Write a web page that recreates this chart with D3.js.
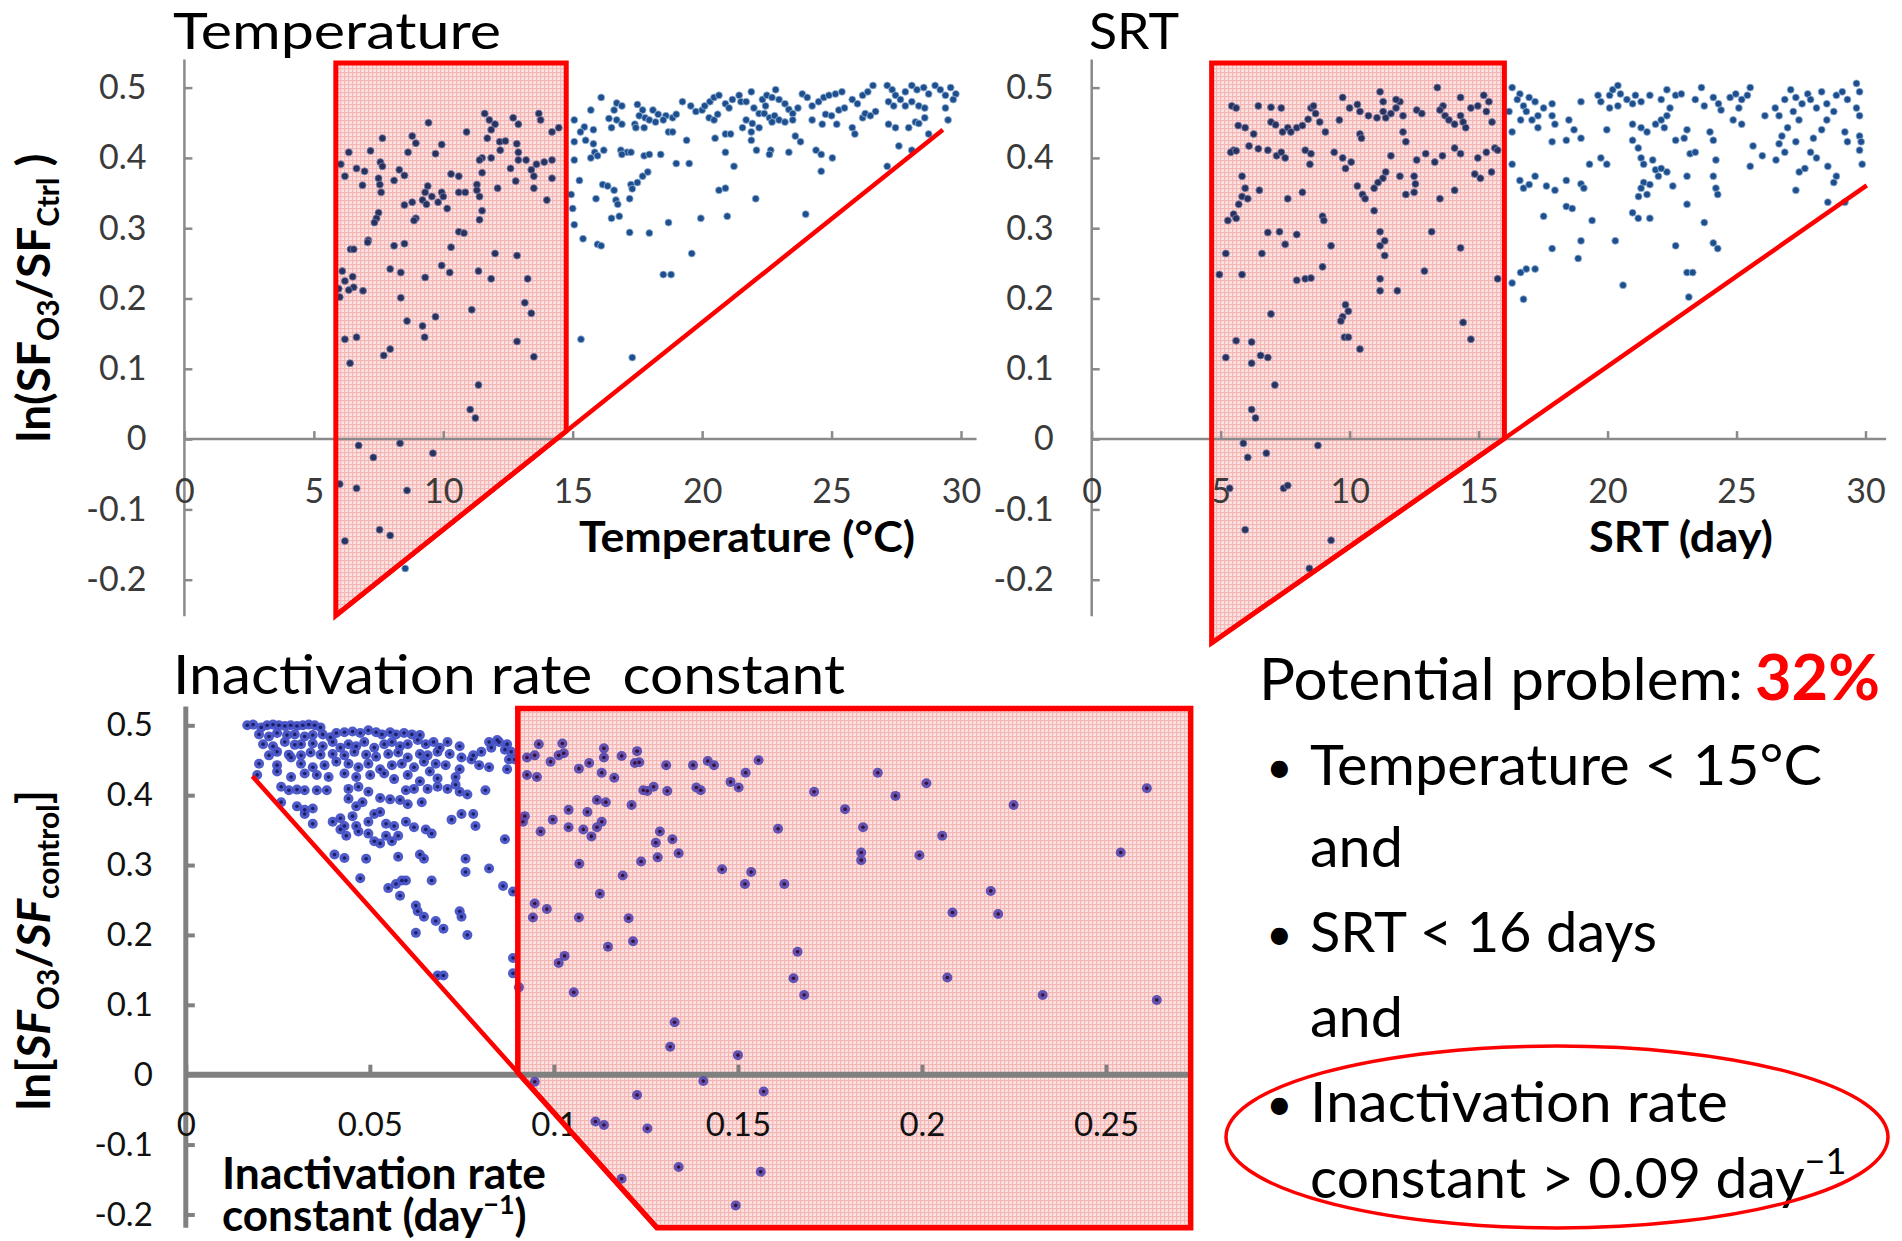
<!DOCTYPE html>
<html><head><meta charset="utf-8">
<script src="https://cdn.jsdelivr.net/npm/d3@7"></script>
<style>body{margin:0;background:#fff}svg{display:block}text{font-family:Lato,'Open Sans',sans-serif}</style>
</head><body><svg id="c" width="1902" height="1241"></svg>
<script>
// ---------- data ----------
const tempPoints=[[11.6,0.463],[13.69,0.463],[12.7,0.457],[9.43,0.45],[11.78,0.454],[12.0,0.448],[11.85,0.44],[12.9,0.448],[10.9,0.437],[13.76,0.454],[14.2,0.437],[14.46,0.443],[8.8,0.431],[7.65,0.428],[8.94,0.421],[11.7,0.428],[12.18,0.423],[12.4,0.424],[8.64,0.408],[9.94,0.419],[9.7,0.406],[12.2,0.411],[12.84,0.42],[12.9,0.408],[12.9,0.397],[11.85,0.4],[11.5,0.4],[11.4,0.397],[6.35,0.408],[7.19,0.41],[7.57,0.394],[7.65,0.388],[13.2,0.397],[13.6,0.391],[13.9,0.394],[14.2,0.397],[6.04,0.391],[6.65,0.385],[6.96,0.381],[8.3,0.383],[8.5,0.375],[10.3,0.377],[10.6,0.374],[11.5,0.379],[12.6,0.385],[13.4,0.383],[13.5,0.374],[14.2,0.371],[6.2,0.374],[7.5,0.371],[7.55,0.362],[7.6,0.351],[8.1,0.368],[12.8,0.367],[9.4,0.36],[9.3,0.351],[9.56,0.345],[9.94,0.351],[10.0,0.345],[10.6,0.351],[10.85,0.351],[11.3,0.362],[11.3,0.354],[11.4,0.345],[12.1,0.357],[13.5,0.357],[6.88,0.361],[9.2,0.34],[9.35,0.334],[9.8,0.337],[10.15,0.328],[8.5,0.333],[8.8,0.337],[14.0,0.34],[11.5,0.325],[11.4,0.312],[7.5,0.322],[7.42,0.314],[7.34,0.308],[8.94,0.314],[8.87,0.311],[10.6,0.295],[10.8,0.293],[7.1,0.283],[7.08,0.28],[8.1,0.275],[8.5,0.278],[10.3,0.273],[6.42,0.27],[6.54,0.27],[12.0,0.264],[12.85,0.261],[9.94,0.247],[10.25,0.237],[6.1,0.239],[6.2,0.225],[5.96,0.214],[6.0,0.202],[6.5,0.231],[6.54,0.216],[6.35,0.212],[6.9,0.211],[7.95,0.242],[8.36,0.237],[9.3,0.23],[11.36,0.239],[11.85,0.228],[13.26,0.228],[8.36,0.201],[13.15,0.194],[13.4,0.179],[11.1,0.184],[9.7,0.174],[8.6,0.168],[9.2,0.161],[9.28,0.145],[6.2,0.142],[6.65,0.145],[12.85,0.139],[7.95,0.128],[7.7,0.119],[13.5,0.117],[6.4,0.108],[11.36,0.077],[11.04,0.042],[11.24,0.03],[6.73,-0.009],[8.33,-0.006],[9.6,-0.02],[7.3,-0.026],[6.0,-0.064],[6.65,-0.07],[8.6,-0.073],[7.54,-0.129],[7.95,-0.137],[6.2,-0.145],[8.53,-0.184],
[16.1,0.486],[15.7,0.468],[15.06,0.454],[15.45,0.444],[15.8,0.44],[15.3,0.437],[15.06,0.423],[15.5,0.425],[15.8,0.42],[15.85,0.408],[16.2,0.411],[15.7,0.4],[15.96,0.403],[15.06,0.397],[16.7,0.478],[16.9,0.474],[16.6,0.468],[16.4,0.456],[16.7,0.454],[16.9,0.448],[16.5,0.443],[16.86,0.411],[17.1,0.408],[16.9,0.405],[17.25,0.408],[17.5,0.476],[17.7,0.468],[17.57,0.46],[17.8,0.457],[17.4,0.448],[18.1,0.468],[18.3,0.462],[18.6,0.46],[17.96,0.454],[18.2,0.451],[18.5,0.454],[18.86,0.457],[19.0,0.462],[17.44,0.443],[17.76,0.443],[18.7,0.437],[18.86,0.437],[17.76,0.403],[17.96,0.405],[18.4,0.405],[19.0,0.392],[19.5,0.392],[19.4,0.425],[19.24,0.48],[19.56,0.474],[19.76,0.466],[20.0,0.468],[20.1,0.474],[20.3,0.48],[20.46,0.486],[20.65,0.489],[20.27,0.457],[20.46,0.454],[20.6,0.462],[20.9,0.477],[21.04,0.471],[21.17,0.483],[21.43,0.489],[21.5,0.48],[20.5,0.428],[20.9,0.434],[21.1,0.434],[20.9,0.408],[21.23,0.388],[21.7,0.48],[21.9,0.494],[22.0,0.471],[22.2,0.463],[21.7,0.454],[21.56,0.443],[21.94,0.449],[22.2,0.443],[21.9,0.437],[21.9,0.425],[22.1,0.411],[22.33,0.483],[22.5,0.489],[22.7,0.486],[22.84,0.497],[22.97,0.483],[23.2,0.477],[23.35,0.469],[23.5,0.463],[23.7,0.471],[22.45,0.474],[22.4,0.463],[22.6,0.457],[22.8,0.46],[22.97,0.454],[22.7,0.451],[22.65,0.411],[22.6,0.405],[23.35,0.408],[23.6,0.431],[23.8,0.423],[23.2,0.451],[23.5,0.454],[23.87,0.491],[24.06,0.486],[24.25,0.474],[24.5,0.48],[24.7,0.486],[24.9,0.489],[25.15,0.491],[25.4,0.494],[24.25,0.454],[24.64,0.448],[24.77,0.462],[25.0,0.46],[25.28,0.468],[25.5,0.471],[25.2,0.448],[25.8,0.483],[26.0,0.477],[26.2,0.489],[26.4,0.494],[26.6,0.503],[25.8,0.443],[25.9,0.434],[26.2,0.457],[26.3,0.463],[26.5,0.46],[26.7,0.466],[24.4,0.411],[24.6,0.405],[25.03,0.4],[24.6,0.381],[24.0,0.32],[27.15,0.503],[27.34,0.497],[27.47,0.489],[27.66,0.483],[27.2,0.48],[27.4,0.474],[27.85,0.494],[28.1,0.503],[28.3,0.497],[28.56,0.5],[28.75,0.491],[29.0,0.503],[29.2,0.497],[29.4,0.489],[29.6,0.5],[29.8,0.491],[29.7,0.483],[27.85,0.474],[28.1,0.48],[28.37,0.474],[28.6,0.471],[27.2,0.448],[27.47,0.443],[27.98,0.443],[28.24,0.451],[28.6,0.457],[28.37,0.449],[29.4,0.471],[29.5,0.454],[28.75,0.434],[27.6,0.417],[28.1,0.411],[27.15,0.388],[15.26,0.368],[14.94,0.348],[15.0,0.328],[15.06,0.305],[15.4,0.285],[15.9,0.342],[16.16,0.362],[16.35,0.36],[16.6,0.354],[16.67,0.34],[16.74,0.334],[16.5,0.314],[16.8,0.317],[15.96,0.277],[16.1,0.275],[17.25,0.362],[17.2,0.342],[17.3,0.356],[17.5,0.365],[17.7,0.374],[17.9,0.38],[17.2,0.294],[17.96,0.293],[18.7,0.308],[18.5,0.234],[18.8,0.234],[19.6,0.264],[19.95,0.314],[20.65,0.354],[20.9,0.357],[20.97,0.317],[22.07,0.342],[15.32,0.142],[17.3,0.116]];

const srtPoints=[[5.43,0.474],[5.6,0.471],[6.46,0.474],[6.95,0.472],[7.35,0.471],[5.68,0.446],[5.95,0.443],[6.28,0.434],[5.5,0.411],[5.39,0.408],[5.6,0.41],[6.1,0.417],[6.46,0.413],[6.83,0.411],[6.95,0.451],[7.13,0.447],[7.4,0.437],[7.6,0.443],[7.72,0.437],[7.95,0.443],[8.17,0.446],[8.39,0.455],[8.5,0.471],[8.6,0.474],[8.68,0.463],[7.17,0.403],[7.35,0.408],[7.5,0.4],[8.28,0.411],[8.5,0.406],[8.46,0.391],[9.06,0.437],[8.84,0.451],[9.73,0.486],[9.6,0.454],[10.0,0.471],[10.3,0.476],[10.4,0.466],[9.4,0.408],[9.73,0.4],[10.06,0.394],[10.4,0.434],[10.46,0.428],[10.73,0.46],[11.06,0.457],[11.3,0.466],[11.4,0.457],[11.6,0.463],[11.8,0.471],[11.95,0.48],[12.07,0.46],[11.8,0.483],[11.18,0.494],[11.3,0.48],[12.07,0.437],[12.18,0.423],[12.6,0.468],[12.8,0.463],[13.4,0.5],[13.62,0.474],[13.5,0.468],[13.7,0.46],[13.85,0.454],[14.07,0.448],[14.3,0.46],[14.4,0.451],[14.5,0.443],[14.7,0.471],[14.97,0.474],[15.2,0.489],[15.4,0.48],[15.3,0.466],[15.52,0.451],[14.3,0.486],[12.6,0.397],[12.95,0.406],[13.3,0.394],[13.6,0.403],[14.07,0.414],[14.3,0.406],[14.97,0.4],[15.3,0.408],[15.63,0.414],[15.74,0.411],[11.6,0.403],[11.4,0.38],[11.29,0.371],[11.1,0.365],[10.95,0.357],[11.95,0.374],[12.5,0.374],[12.55,0.363],[12.18,0.348],[12.5,0.351],[10.3,0.36],[10.5,0.348],[10.6,0.342],[9.84,0.385],[14.85,0.377],[15.07,0.371],[15.5,0.38],[14.07,0.354],[13.5,0.342],[10.95,0.325],[5.83,0.374],[5.95,0.357],[5.83,0.345],[5.7,0.334],[5.5,0.32],[5.6,0.314],[5.28,0.311],[6.05,0.342],[6.5,0.354],[7.6,0.342],[8.17,0.351],[8.95,0.317],[9.0,0.311],[6.83,0.294],[7.28,0.295],[7.95,0.291],[7.5,0.277],[6.6,0.264],[5.2,0.264],[9.28,0.275],[11.18,0.295],[11.36,0.282],[11.18,0.275],[11.36,0.261],[13.18,0.295],[14.3,0.272],[4.95,0.234],[5.83,0.234],[7.95,0.226],[8.28,0.228],[8.5,0.229],[8.95,0.245],[11.18,0.228],[11.18,0.211],[11.85,0.211],[12.9,0.239],[15.74,0.228],[6.95,0.178],[9.84,0.191],[9.95,0.182],[9.73,0.174],[9.66,0.168],[9.8,0.145],[9.95,0.145],[10.4,0.128],[14.4,0.166],[14.7,0.142],[5.6,0.14],[5.2,0.116],[6.2,0.138],[6.2,0.108],[6.55,0.119],[6.83,0.116],[7.1,0.077],[6.2,0.042],[6.35,0.03],[5.88,-0.006],[6.05,-0.026],[6.77,-0.02],[8.77,-0.009],[5.35,-0.07],[7.44,-0.07],[7.6,-0.066],[5.95,-0.129],[9.28,-0.144],[8.44,-0.184],
[16.3,0.5],[16.6,0.491],[16.5,0.483],[16.74,0.474],[16.96,0.486],[17.19,0.48],[16.85,0.466],[17.3,0.46],[17.52,0.471],[17.85,0.477],[17.07,0.454],[17.3,0.443],[16.63,0.454],[16.18,0.466],[16.3,0.437],[17.85,0.46],[17.96,0.448],[18.5,0.454],[18.7,0.44],[18.97,0.428],[17.85,0.423],[18.4,0.425],[16.3,0.391],[16.6,0.368],[16.74,0.357],[16.96,0.362],[17.19,0.374],[17.63,0.36],[17.96,0.354],[18.4,0.368],[18.97,0.363],[19.08,0.357],[17.52,0.317],[18.4,0.331],[18.63,0.328],[19.4,0.311],[16.63,0.237],[16.85,0.242],[17.19,0.242],[16.3,0.222],[16.74,0.199],[17.85,0.271],[18.86,0.257],[18.97,0.282],[19.3,0.391],[19.63,0.489],[19.74,0.48],[20.08,0.489],[20.2,0.497],[20.4,0.503],[20.5,0.491],[20.75,0.483],[20.97,0.477],[20.4,0.474],[20.08,0.471],[21.08,0.489],[21.3,0.48],[18.97,0.48],[19.97,0.44],[19.74,0.4],[19.97,0.391],[20.97,0.425],[21.19,0.414],[21.3,0.4],[21.4,0.391],[21.86,0.383],[20.97,0.448],[21.3,0.443],[21.53,0.437],[21.86,0.448],[22.08,0.454],[22.2,0.443],[22.3,0.46],[21.64,0.489],[22.08,0.483],[22.3,0.497],[22.64,0.489],[22.86,0.491],[22.42,0.471],[21.4,0.365],[21.3,0.357],[21.2,0.345],[21.53,0.348],[20.97,0.322],[21.19,0.314],[21.64,0.314],[20.3,0.282],[20.6,0.219],[21.64,0.362],[21.97,0.374],[22.3,0.38],[22.53,0.36],[23.08,0.374],[21.75,0.397],[22.08,0.385],[22.64,0.425],[23.2,0.406],[23.4,0.408],[23.08,0.44],[22.97,0.428],[23.08,0.334],[22.64,0.275],[23.08,0.237],[23.3,0.237],[23.15,0.202],[23.75,0.308],[24.1,0.279],[24.27,0.271],[24.2,0.357],[24.27,0.348],[24.1,0.374],[24.2,0.397],[24.1,0.425],[23.97,0.437],[23.4,0.483],[23.64,0.5],[23.75,0.474],[24.1,0.486],[24.3,0.477],[24.4,0.468],[24.75,0.486],[24.97,0.491],[25.2,0.483],[25.42,0.489],[25.53,0.5],[25.09,0.471],[25.2,0.448],[25.64,0.417],[25.53,0.388],[26.1,0.46],[26.5,0.471],[26.65,0.46],[26.87,0.483],[27.1,0.497],[27.3,0.486],[27.2,0.466],[27.42,0.454],[26.98,0.443],[26.76,0.431],[26.65,0.42],[26.87,0.408],[26.53,0.397],[27.3,0.423],[27.54,0.477],[27.76,0.491],[27.87,0.483],[28.1,0.471],[28.3,0.494],[28.5,0.477],[28.77,0.466],[28.87,0.489],[29.1,0.494],[29.3,0.483],[28.5,0.454],[28.3,0.44],[27.87,0.408],[28.1,0.4],[27.98,0.428],[27.43,0.38],[27.65,0.385],[27.3,0.354],[28.54,0.388],[28.87,0.374],[28.77,0.365],[29.2,0.437],[29.3,0.423],[29.65,0.506],[29.77,0.494],[29.65,0.471],[29.77,0.46],[29.77,0.431],[29.83,0.423],[29.77,0.411],[29.87,0.391],[28.54,0.337],[29.2,0.337],[26.0,0.403],[24.87,0.454]];

const kPoints=[[0.0167,0.5],[0.0183,0.501],[0.0205,0.497],[0.0221,0.5],[0.0237,0.501],[0.0253,0.5],[0.0269,0.499],[0.0285,0.5],[0.0302,0.499],[0.0318,0.5],[0.0334,0.501],[0.035,0.5],[0.0366,0.497],
[0.0199,0.487],[0.0226,0.484],[0.0248,0.489],[0.0275,0.486],[0.0296,0.487],[0.0323,0.484],[0.0345,0.486],[0.0372,0.487],[0.0393,0.483],[0.0409,0.489],[0.0431,0.49],[0.0453,0.491],[0.0474,0.489],[0.0496,0.493],[0.0517,0.49],[0.0533,0.487],[0.0555,0.49],[0.0571,0.487],[0.0593,0.489],[0.0614,0.487],[0.0636,0.486],
[0.021,0.473],[0.0237,0.47],[0.0269,0.476],[0.0296,0.472],[0.0313,0.473],[0.0345,0.474],[0.0372,0.47],[0.0399,0.476],[0.042,0.468],[0.0442,0.473],[0.0463,0.47],[0.0485,0.476],[0.0512,0.468],[0.0539,0.473],[0.056,0.476],[0.0582,0.47],[0.0603,0.473],[0.063,0.479],[0.0652,0.473],[0.0673,0.476],[0.069,0.468],[0.0711,0.476],[0.0744,0.47],
[0.0226,0.457],[0.0248,0.462],[0.028,0.458],[0.0313,0.457],[0.0339,0.461],[0.0366,0.458],[0.0399,0.459],[0.0431,0.457],[0.0458,0.462],[0.049,0.458],[0.0517,0.455],[0.055,0.459],[0.0577,0.461],[0.0603,0.454],[0.0636,0.459],[0.0657,0.457],[0.0684,0.462],[0.0717,0.459],[0.0749,0.454],[0.0781,0.457],[0.0803,0.462],[0.083,0.468],[0.0851,0.476],[0.0867,0.465],
[0.0824,0.476],[0.0846,0.479],[0.0873,0.473],[0.0884,0.462],[0.0878,0.451],[0.0873,0.437],[0.0894,0.451],
[0.0199,0.445],[0.0248,0.443],[0.0286,0.454],[0.0313,0.445],[0.0345,0.44],[0.0377,0.443],[0.0409,0.448],[0.0442,0.445],[0.0469,0.44],[0.0496,0.445],[0.0528,0.437],[0.056,0.443],[0.0587,0.445],[0.062,0.44],[0.0647,0.448],[0.0679,0.445],[0.0706,0.443],[0.0744,0.437],[0.0776,0.451],[0.0797,0.443],[0.0824,0.44],
[0.0194,0.429],[0.0248,0.434],[0.0286,0.426],[0.0323,0.431],[0.0356,0.429],[0.0388,0.426],[0.0431,0.431],[0.0463,0.426],[0.0501,0.429],[0.0539,0.431],[0.0566,0.423],[0.0603,0.429],[0.0636,0.42],[0.0663,0.434],[0.0684,0.424],[0.0733,0.426],
[0.0259,0.412],[0.028,0.407],[0.0302,0.408],[0.0323,0.407],[0.0356,0.407],[0.0383,0.407],[0.0442,0.409],[0.0469,0.412],[0.0496,0.405],[0.0528,0.396],[0.0555,0.394],[0.0598,0.407],[0.062,0.409],[0.0657,0.409],[0.0684,0.412],[0.0711,0.409],[0.0733,0.415],[0.0744,0.405],[0.0765,0.401],[0.0814,0.407],
[0.0259,0.39],[0.0302,0.384],[0.0323,0.379],[0.0345,0.381],[0.0442,0.395],[0.0463,0.384],[0.048,0.39],[0.0582,0.393],[0.0603,0.387],[0.0641,0.39],
[0.0323,0.373],[0.0345,0.359],[0.0399,0.362],[0.042,0.367],[0.0431,0.356],[0.0453,0.37],[0.0463,0.356],[0.0496,0.362],[0.0512,0.373],[0.0528,0.376],[0.0544,0.359],[0.0566,0.356],[0.0598,0.362],[0.062,0.354],[0.0652,0.351],[0.0722,0.365],[0.0749,0.373],[0.0781,0.373],[0.0787,0.356],
[0.042,0.351],[0.0436,0.342],[0.0469,0.348],[0.0496,0.345],[0.0512,0.334],[0.0528,0.331],[0.0544,0.342],[0.056,0.334],[0.0577,0.342],[0.0668,0.345],[0.0867,0.337],
[0.0404,0.315],[0.0431,0.31],[0.049,0.309],[0.0577,0.312],[0.0636,0.315],[0.0647,0.309],[0.076,0.309],[0.076,0.29],[0.0824,0.295],[0.0474,0.281],[0.055,0.267],[0.0571,0.273],[0.0587,0.278],[0.0598,0.278],[0.0582,0.256],[0.0668,0.278],[0.0862,0.27],[0.0889,0.262],[0.0625,0.242],[0.063,0.234],[0.0647,0.226],[0.0625,0.203],[0.0679,0.22],[0.07,0.209],[0.0744,0.234],[0.0749,0.226],[0.0765,0.2],[0.0684,0.142],[0.07,0.142],[0.0889,0.167],[0.0889,0.145],[0.0905,0.125],
[0.0927,0.454],[0.0948,0.457],[0.0959,0.473],[0.0991,0.448],[0.1013,0.457],[0.0927,0.429],[0.0954,0.426],[0.0921,0.37],[0.0916,0.362],[0.0964,0.348],[0.0997,0.365],[0.0948,0.245],[0.0943,0.225],[0.0981,0.237],[0.1013,0.16],[0.0948,-0.01],
[0.1023,0.474],[0.1027,0.46],[0.1068,0.438],[0.1096,0.446],[0.113,0.432],[0.1136,0.454],[0.1136,0.467],[0.1164,0.425],[0.1184,0.456],[0.1226,0.463],[0.122,0.446],[0.1232,0.447],[0.1305,0.443],[0.1378,0.443],[0.1418,0.449],[0.1435,0.443],[0.148,0.419],[0.1502,0.411],[0.1521,0.432],[0.1556,0.45],
[0.104,0.379],[0.1091,0.376],[0.1117,0.393],[0.1141,0.39],[0.1211,0.386],[0.1243,0.407],[0.1254,0.406],[0.1271,0.412],[0.1308,0.406],[0.1387,0.411],[0.1399,0.407],
[0.104,0.354],[0.108,0.351],[0.1102,0.341],[0.1117,0.354],[0.113,0.362],[0.1277,0.332],[0.1288,0.348],[0.1282,0.311],[0.1322,0.337],[0.1339,0.317],[0.1237,0.305],[0.1069,0.302],[0.1187,0.285],[0.1125,0.259],[0.1457,0.294],[0.1519,0.273],[0.1536,0.29],[0.1609,0.352],[0.1626,0.273],
[0.1707,0.405],[0.1791,0.38],[0.184,0.354],[0.1835,0.318],[0.1835,0.307],[0.188,0.432],[0.1928,0.399],[0.1993,0.314],[0.2012,0.417],[0.2055,0.342],[0.2249,0.386],[0.2187,0.263],[0.2083,0.232],[0.2207,0.23],[0.254,0.318],[0.2611,0.41],
[0.1068,0.225],[0.1203,0.224],[0.1215,0.191],[0.1147,0.183],[0.1029,0.17],[0.1054,0.118],[0.1662,0.176],[0.1651,0.138],[0.168,0.114],[0.2069,0.139],[0.2328,0.114],[0.2638,0.107],[0.1328,0.075],[0.1316,0.04],[0.15,0.028],
[0.1406,-0.009],[0.1226,-0.029],[0.157,-0.024],[0.1113,-0.067],[0.1136,-0.072],[0.1254,-0.077],[0.1339,-0.132],[0.1562,-0.139],[0.1184,-0.149],[0.1494,-0.187]];

const yTickValues=[-0.2,-0.1,0,0.1,0.2,0.3,0.4,0.5];
const dayTickValues=[0,5,10,15,20,25,30];
const kTickValues=[0,0.05,0.1,0.15,0.2,0.25];
const kTickLabels=["0","0.05","0.1","0.15","0.2","0.25"];

// highlighted problem zones (data coordinates)
const tempZone=[[5.85,0.535],[14.75,0.535],[14.75,0.0113],[5.85,-0.251]];
const tempLine=[[5.85,-0.251],[29.3,0.44]];
const srtZone=[[4.65,0.535],[16,0.535],[16,0.0009],[4.65,-0.29]];
const srtLine=[[4.65,-0.29],[30.05,0.361]];
const kZone=[[0.0902,0.524],[0.273,0.524],[0.273,-0.219],[0.128,-0.219],[0.0902,0.0032]];
const kLine=[[0.0181,0.427],[0.128,-0.219]];

// ---------- scales ----------
const yTop=d3.scaleLinear().domain([0,0.5]).range([439.1,87.6]);
const xTemp=d3.scaleLinear().domain([0,30]).range([184.4,961]);
const xSrt=d3.scaleLinear().domain([0,30]).range([1091.7,1865.5]);
const xK=d3.scaleLinear().domain([0,0.25]).range([185.8,1106]);
const yK=d3.scaleLinear().domain([0,0.5]).range([1074.7,725.3]);

const svg=d3.select('#c');
const defs=svg.append('defs');
const pat=defs.append('pattern').attr('id','pink').attr('width',4).attr('height',4).attr('patternUnits','userSpaceOnUse');
pat.append('rect').attr('width',4).attr('height',4).attr('fill','#fcdede');
pat.append('rect').attr('width',4).attr('height',1.2).attr('fill','#f3a9a9');
pat.append('rect').attr('width',1.2).attr('height',4).attr('fill','#f3a9a9');

const fmt=d=>d.toFixed(1).replace(/\.0$/,'');
const AX='#8a8a8a', LBL='#3a3a3a';
const line=(xs,ys)=>d3.line().x(d=>xs(d[0])).y(d=>ys(d[1]));

function zoneFill(zone,xs,ys){
  svg.append('path').attr('d',line(xs,ys)(zone)+'Z').attr('fill','url(#pink)').attr('fill-opacity',0.85);
}
function zoneStroke(zone,ln,xs,ys,w){
  svg.append('path').attr('d',line(xs,ys)(zone)+'Z').attr('fill','none').attr('stroke','#ff0000').attr('stroke-width',w).attr('stroke-linejoin','miter');
  svg.append('path').attr('d',line(xs,ys)(ln)).attr('fill','none').attr('stroke','#ff0000').attr('stroke-width',4.5);
}

// zone fills first (axes and labels drawn over them)
zoneFill(tempZone,xTemp,yTop);
zoneFill(srtZone,xSrt,yTop);
zoneFill(kZone,xK,yK);

function topAxes(xs, lineMaxX){
  const g=svg.append('g');
  const ya=g.append('g').attr('transform',`translate(${xs(0)},0)`)
    .call(d3.axisLeft(yTop).tickValues(yTickValues).tickSize(-8).tickPadding(38).tickFormat(fmt));
  ya.select('.domain').remove();
  ya.selectAll('line').attr('stroke',AX).attr('stroke-width',2.5);
  ya.selectAll('text').attr('fill',LBL).attr('font-size',34).attr('font-family','Lato');
  g.append('line').attr('x1',xs(0)).attr('x2',xs(0)).attr('y1',yTop(0.54)).attr('y2',yTop(-0.252)).attr('stroke',AX).attr('stroke-width',2.5);
  const xa=g.append('g').attr('transform',`translate(0,${yTop(0)})`)
    .call(d3.axisBottom(xs).tickValues(dayTickValues).tickSize(-8).tickPadding(40).tickFormat(d3.format('d')));
  xa.select('.domain').remove();
  xa.selectAll('line').attr('stroke',AX).attr('stroke-width',2.5);
  xa.selectAll('text').attr('fill',LBL).attr('font-size',34).attr('font-family','Lato');
  g.append('line').attr('x1',xs(0)).attr('x2',xs(lineMaxX)).attr('y1',yTop(0)).attr('y2',yTop(0)).attr('stroke',AX).attr('stroke-width',2.5);
}
topAxes(xTemp,30.6);
topAxes(xSrt,30.8);

// bottom axes
{
  const g=svg.append('g');
  const ya=g.append('g').attr('transform',`translate(${xK(0)},0)`)
    .call(d3.axisLeft(yK).tickValues(yTickValues).tickSize(-9).tickPadding(33).tickFormat(fmt));
  ya.select('.domain').remove();
  ya.selectAll('line').attr('stroke','#808080').attr('stroke-width',4);
  ya.selectAll('text').attr('fill','#111').attr('font-size',33).attr('font-family','Lato');
  g.append('line').attr('x1',xK(0)).attr('x2',xK(0)).attr('y1',yK(0.527)).attr('y2',yK(-0.219)).attr('stroke','#808080').attr('stroke-width',5);
  const xa=g.append('g').attr('transform',`translate(0,${yK(0)})`)
    .call(d3.axisBottom(xK).tickValues(kTickValues).tickSize(-10).tickPadding(38).tickFormat((d,i)=>kTickLabels[i]));
  xa.select('.domain').remove();
  xa.selectAll('line').attr('stroke','#808080').attr('stroke-width',4);
  xa.selectAll('text').attr('fill','#111').attr('font-size',33).attr('font-family','Lato');
  g.append('line').attr('x1',xK(0)).attr('x2',xK(0.2725)).attr('y1',yK(0)).attr('y2',yK(0)).attr('stroke','#808080').attr('stroke-width',6);
}

function pointsTop(pts,xs,zone){
  const zp=zone.map(d=>[xs(d[0]),yTop(d[1])]);
  const inside=d=>d3.polygonContains(zp,[xs(d[0]),yTop(d[1])]);
  svg.append('g').selectAll('circle').data(pts).join('circle')
    .attr('cx',d=>xs(d[0])).attr('cy',d=>yTop(d[1])).attr('r',3.5)
    .attr('fill',d=>inside(d)?'#27325f':'#1d4f8f')
    .attr('stroke',d=>inside(d)?'#7a7fa8':'#9bb6d6').attr('stroke-width',0.8);
}

pointsTop(tempPoints,xTemp,tempZone);
zoneStroke(tempZone,tempLine,xTemp,yTop,5);

pointsTop(srtPoints,xSrt,srtZone);
zoneStroke(srtZone,srtLine,xSrt,yTop,5);

{
  const zp=kZone.map(d=>[xK(d[0]),yK(d[1])]);
  const inside=d=>d3.polygonContains(zp,[xK(d[0]),yK(d[1])]);
  const g=svg.append('g');
  g.selectAll('circle.o').data(kPoints).join('circle').attr('class','o')
    .attr('cx',d=>xK(d[0])).attr('cy',d=>yK(d[1])).attr('r',5)
    .attr('fill',d=>inside(d)?'#5a4cb0':'#4652c6').attr('fill-opacity',0.95);
  g.selectAll('circle.i').data(kPoints).join('circle').attr('class','i')
    .attr('cx',d=>xK(d[0])).attr('cy',d=>yK(d[1])).attr('r',1.8)
    .attr('fill',d=>inside(d)?'#3a0f3a':'#1b1f66');
}
zoneStroke(kZone,kLine,xK,yK,5.5);

// ---------- texts ----------
function txt(s,x,y,size,opts={}){
  const t=svg.append('text').attr('x',x).attr('y',y).attr('font-size',size).attr('fill',opts.fill||'#000')
    .attr('font-weight',opts.bold?'bold':'normal').style('white-space','pre').text(s);
  if(opts.len) t.attr('textLength',opts.len).attr('lengthAdjust','spacingAndGlyphs');
  if(opts.anchor) t.attr('text-anchor',opts.anchor);
  return t;
}
txt('Temperature',173,49,51,{len:328});
txt('SRT',1089,49,51,{len:90});
txt('Inactivation rate  constant',173,694,54,{len:672});

txt('Temperature (°C)',579,552,42,{bold:true,len:336});
txt('SRT (day)',1589,552,42,{bold:true,len:184});
txt('Inactivation rate',222,1189,44,{bold:true,len:324});
{
  const t=txt('constant (day',222,1231,44,{bold:true});
  t.append('tspan').attr('font-size',27).attr('dy',-17).text('\u22121');
  t.append('tspan').attr('dy',17).text(')');
}
// y titles
{
  const t=svg.append('text').attr('transform','translate(50,298) rotate(-90)').attr('text-anchor','middle')
    .attr('font-size',46).attr('font-weight','bold');
  t.append('tspan').text('ln(SF');
  t.append('tspan').attr('font-size',30).attr('dy',9).text('O3');
  t.append('tspan').attr('dy',-9).text('/SF');
  t.append('tspan').attr('font-size',30).attr('dy',9).text('Ctrl');
  t.append('tspan').attr('dy',-9).text(' )');
}
{
  const t=svg.append('text').attr('transform','translate(50,950) rotate(-90)').attr('text-anchor','middle')
    .attr('font-size',46).attr('font-weight','bold');
  t.append('tspan').text('ln[');
  t.append('tspan').attr('font-style','italic').text('SF');
  t.append('tspan').attr('font-size',30).attr('dy',9).text('O3');
  t.append('tspan').attr('dy',-9).text('/');
  t.append('tspan').attr('font-style','italic').text('SF');
  t.append('tspan').attr('font-size',30).attr('dy',9).text('control');
  t.append('tspan').attr('dy',-9).text(']');
}

// right text block
txt('Potential problem:',1259,700,58,{len:484});
txt('32%',1755,700,64,{bold:true,fill:'#ff0000',len:125});
const bulletY=[785,952,1122];
bulletY.forEach(y=>txt('\u2022',1266,y-2,46));
txt('Temperature < 15°C',1310,785,57,{len:512});
txt('and',1310,867,57,{len:93});
txt('SRT < 16 days',1310,952,57,{len:347});
txt('and',1310,1037,57,{len:93});
txt('Inactivation rate',1310,1122,57,{len:418});
{
  const t=txt('constant > 0.09 day',1310,1198,57);
  t.append('tspan').attr('font-size',36).attr('dy',-24).text('\u22121');
}
svg.append('ellipse').attr('cx',1557).attr('cy',1137).attr('rx',331).attr('ry',91)
  .attr('fill','none').attr('stroke','#ff0000').attr('stroke-width',3.5);
</script></body></html>
